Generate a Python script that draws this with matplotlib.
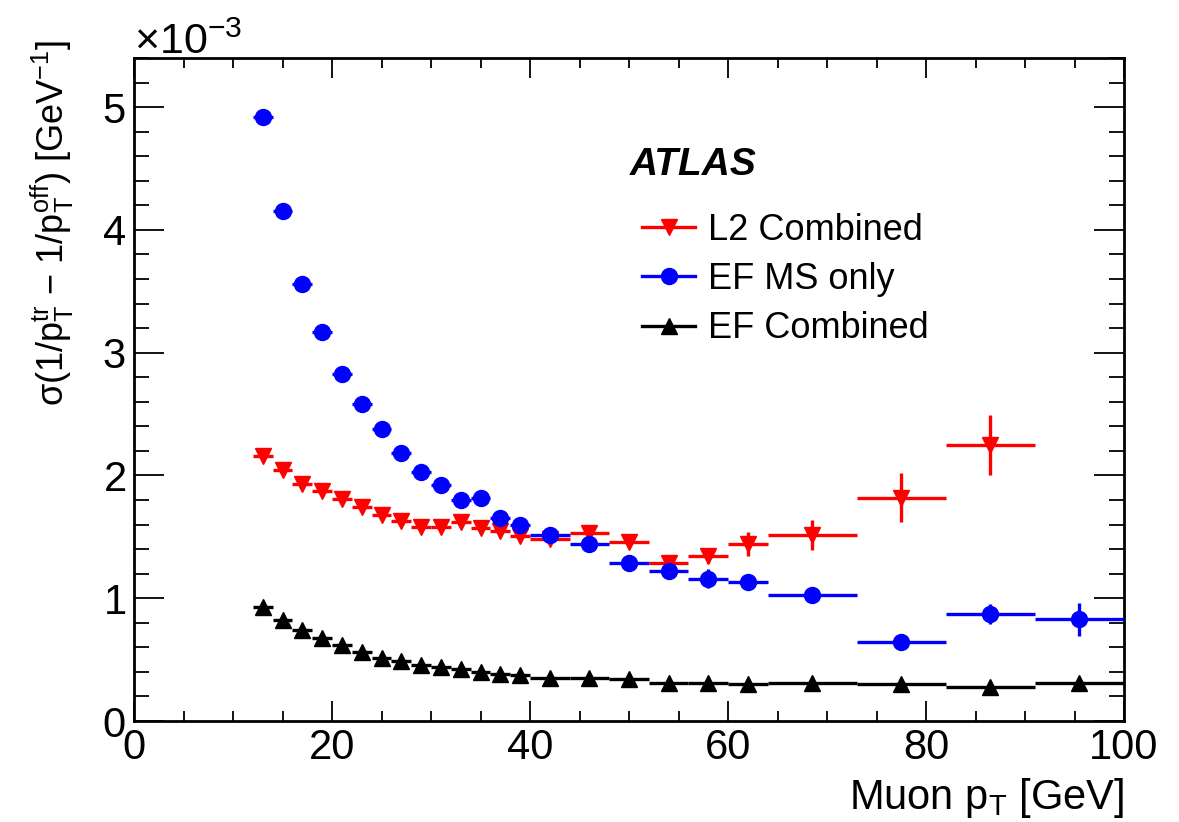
import matplotlib
matplotlib.use("Agg")
import matplotlib.pyplot as plt
from matplotlib.ticker import MultipleLocator
from matplotlib.lines import Line2D
import numpy as np

# Muon pT bins [GeV]: centres and half-widths
pt_centres = [13, 15, 17, 19, 21, 23, 25, 27, 29, 31, 33, 35, 37, 39,
              42, 46, 50, 54, 58, 62, 68.5, 77.5, 86.5, 95.5]
pt_halfwidth = [1] * 14 + [2] * 6 + [4.5] * 4

# Resolution of 1/pT in units of 1e-3 GeV^-1
l2_combined = [2.158, 2.044, 1.927, 1.873, 1.805, 1.745, 1.677, 1.629, 1.582, 1.582,
               1.618, 1.569, 1.550, 1.509, 1.480, 1.530, 1.460, 1.290, 1.340, 1.440,
               1.515, 1.820, 2.250]
l2_combined_err = [0.02] * 14 + [0.02, 0.03, 0.03, 0.04, 0.05, 0.10, 0.12, 0.20, 0.245]

ef_ms_only = [4.920, 4.155, 3.560, 3.170, 2.823, 2.580, 2.375, 2.180, 2.025, 1.920,
              1.800, 1.820, 1.650, 1.600, 1.515, 1.440, 1.285, 1.220, 1.160, 1.130,
              1.027, 0.647, 0.870, 0.830]
ef_ms_only_err = [0.02] * 14 + [0.02, 0.02, 0.03, 0.03, 0.075, 0.04, 0.04, 0.04, 0.08, 0.135]

ef_combined = [0.930, 0.820, 0.745, 0.675, 0.620, 0.565, 0.510, 0.485, 0.457, 0.438,
               0.420, 0.400, 0.383, 0.375, 0.352, 0.347, 0.339, 0.312, 0.307, 0.301,
               0.307, 0.301, 0.280, 0.307]
ef_combined_err = [0.01] * 24

SCALE = 1e-3

plt.rcParams["font.family"] = ["Liberation Sans", "DejaVu Sans"]
plt.rcParams["mathtext.fontset"] = "custom"
plt.rcParams["mathtext.rm"] = "Liberation Sans"
plt.rcParams["mathtext.it"] = "Liberation Sans:italic"
plt.rcParams["mathtext.bf"] = "Liberation Sans:bold"
plt.rcParams["mathtext.sf"] = "Liberation Sans"
plt.rcParams["axes.unicode_minus"] = False

W, H = 1179, 822
fig = plt.figure(figsize=(W / 100, H / 100), dpi=100)
ax = fig.add_axes([134 / W, 1 - 721 / H, (1124 - 134) / W, (721 - 58) / H])

def draw(x, xw, y, ye, color, marker, ms):
    n = len(y)
    ax.errorbar(np.array(x[:n]), np.array(y) * SCALE,
                xerr=np.array(xw[:n]), yerr=np.array(ye) * SCALE,
                fmt=marker, color=color, mec=color, mfc=color, ms=ms,
                elinewidth=2.4, capsize=0, zorder=3)

draw(pt_centres, pt_halfwidth, l2_combined, l2_combined_err, "#ff0000", "v", 12)
draw(pt_centres, pt_halfwidth, ef_ms_only, ef_ms_only_err, "#0000ff", "o", 11.5)
draw(pt_centres, pt_halfwidth, ef_combined, ef_combined_err, "#000000", "^", 12)

ax.set_xlim(0, 100)
ax.set_ylim(0, 5.4e-3)

ax.xaxis.set_major_locator(MultipleLocator(20))
ax.xaxis.set_minor_locator(MultipleLocator(5))
ax.yaxis.set_major_locator(MultipleLocator(1e-3))
ax.yaxis.set_minor_locator(MultipleLocator(0.2e-3))
ax.ticklabel_format(axis="y", style="sci", scilimits=(0, 0), useMathText=True)

ax.tick_params(axis="both", which="both", direction="in", top=True, right=True,
               width=1.3, labelsize=30)
ax.tick_params(axis="x", which="major", length=14.4, pad=5)
ax.tick_params(axis="x", which="minor", length=7.2)
ax.tick_params(axis="y", which="major", length=21.6, pad=6)
ax.tick_params(axis="y", which="minor", length=10.8)
for s in ax.spines.values():
    s.set_linewidth(2.0)

off = ax.yaxis.get_offset_text()
off.set_fontsize(31)

ax.set_xlabel(r"Muon p$_{\mathrm{T}}$ [GeV]", fontsize=30, loc="right", labelpad=6)
fig.text(52 / W, 1 - 40 / H,
         r"σ(1/p$_{\mathrm{T}}^{\mathrm{tr}}$ $-$ 1/p$_{\mathrm{T}}^{\mathrm{off}}$) [GeV$^{-1}$]",
         rotation=90, rotation_mode="anchor", ha="right", va="center", fontsize=26)

fig.text(630 / W, 1 - 165 / H, "ATLAS", fontsize=28, fontweight="bold",
         fontstyle="italic", va="center", ha="left")

handles = [
    Line2D([], [], color="#ff0000", marker="v", ms=12, lw=2.4),
    Line2D([], [], color="#0000ff", marker="o", ms=11.5, lw=2.4),
    Line2D([], [], color="#000000", marker="^", ms=12, lw=2.4),
]
labels = ["L2 Combined", "EF MS only", "EF Combined"]
ax.legend(handles, labels, loc="upper left", bbox_to_anchor=(642 / W, 1 - 213 / H),
          bbox_transform=fig.transFigure, frameon=False, fontsize=26,
          handlelength=1.47, handletextpad=0.36, labelspacing=0.39,
          borderpad=0, borderaxespad=0)

fig.savefig("out.png", dpi=100)
